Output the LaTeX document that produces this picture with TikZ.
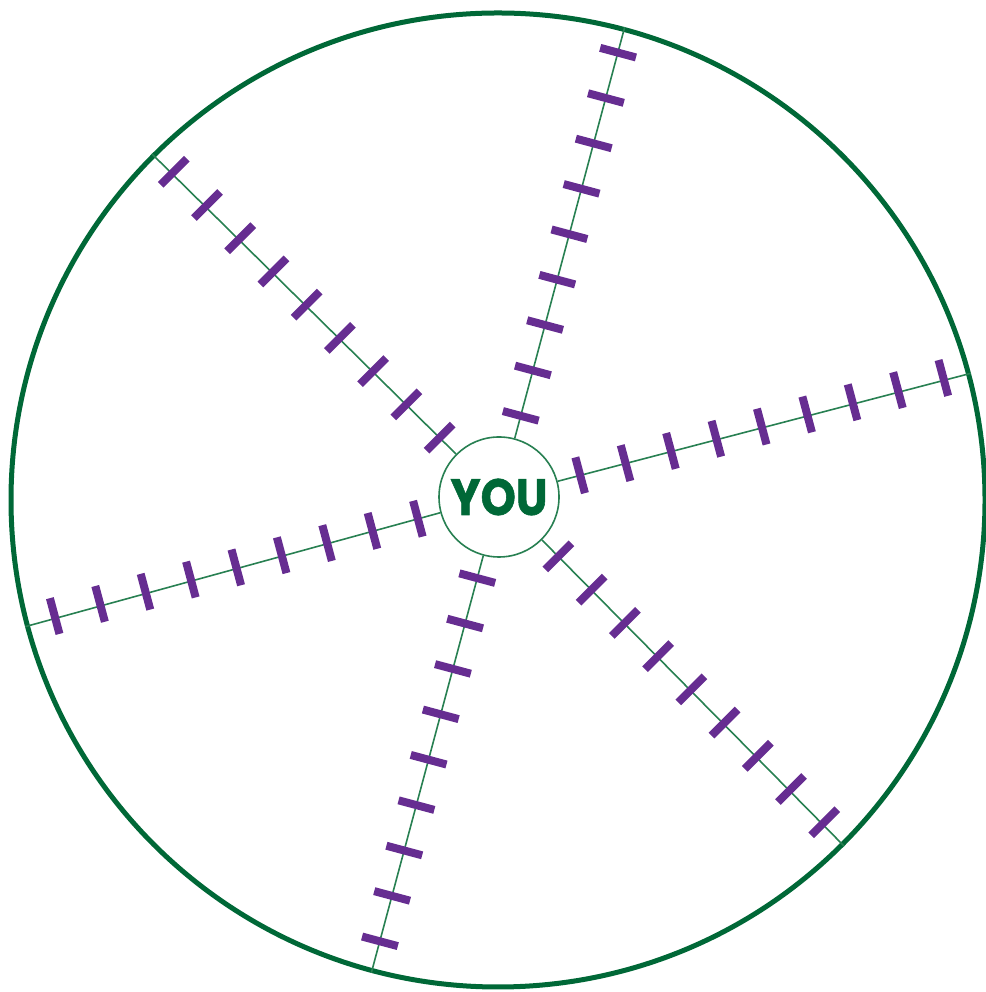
\documentclass[tikz,border=0pt]{standalone}
\usepackage{fontspec}
\newfontfamily\youfont{Poppins}[BoldFeatures={FakeBold=1.2}]
\definecolor{ringgreen}{RGB}{0,104,55}
\definecolor{spokegreen}{RGB}{40,128,82}
\definecolor{tickpurple}{RGB}{102,45,145}
\begin{document}
\begin{tikzpicture}[x=1pt,y=1pt,
  ring/.style={circle, draw=ringgreen, line width=5pt, minimum size=974pt, inner sep=0pt},
  hub/.style={circle, draw=spokegreen, line width=1.6pt, minimum size=120pt, inner sep=0pt, fill=white,
    font=\youfont\bfseries\fontsize{51}{51}\selectfont, text=ringgreen},
  spoke/.style={draw=spokegreen, line width=1.6pt},
  tickbar/.style={draw=tickpurple, line width=8pt}]
\useasboundingbox (0,0) rectangle (985,992);
\node[ring] (outer) at (498,492) {};
\node[hub] (you) at (499,495) {\scalebox{0.88}[1]{YOU}};
\foreach \a in {15,75,135,195,255,315}{
  \draw[spoke] (you.\a) -- (outer.\a);
  \foreach \k in {0,...,8}{
    \pgfmathsetmacro{\r}{84+47*\k}
    \draw[tickbar, shift={(you.center)}, rotate=\a] (\r,-18.5) -- (\r,18.5);
  }
}
\end{tikzpicture}
\end{document}
